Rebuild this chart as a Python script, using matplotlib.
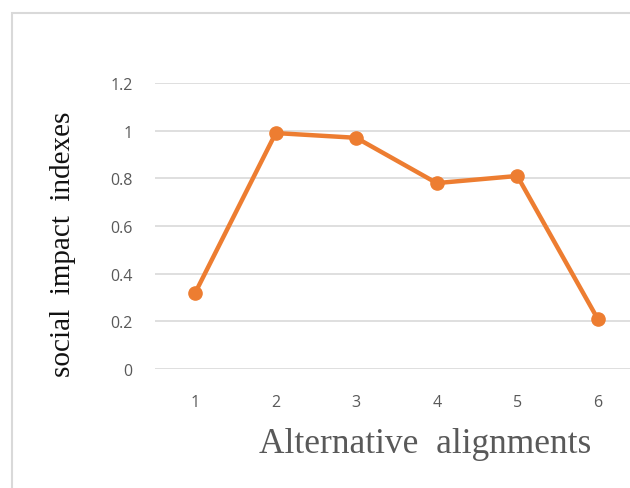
import matplotlib.pyplot as plt
from matplotlib.patches import Rectangle

# data
alternatives = ['1', '2', '3', '4', '5', '6']
social_index = [0.32, 0.99, 0.97, 0.78, 0.81, 0.21]
y_ticks = [0, 0.2, 0.4, 0.6, 0.8, 1.0, 1.2]
y_tick_labels = ['0', '0.2', '0.4', '0.6', '0.8', '1', '1.2']

W, H = 630, 489
fig = plt.figure(figsize=(W / 100, H / 100), dpi=100)

# outer chart frame (cropped at right/bottom)
fig.patches.append(Rectangle((12 / W, -0.1), 1.2, 1 - 14 / H + 0.1,
                             transform=fig.transFigure, fill=False,
                             edgecolor='#d9d9d9', linewidth=1.5))

ax = fig.add_axes([155 / W, 1 - 370 / H, (638 - 155) / W, (370 - 84) / H])
x = list(range(1, len(alternatives) + 1))
ax.plot(x, social_index, color='#ED7D31', linewidth=3.2, marker='o',
        markersize=9.5, solid_capstyle='round', zorder=3)

ax.set_xlim(0.5, 6.5)
ax.set_ylim(0, 1.2)
ax.set_xticks(x)
ax.set_xticklabels(alternatives)
ax.set_yticks(y_ticks)
ax.set_yticklabels(y_tick_labels)
ax.grid(axis='y', color='#d9d9d9', linewidth=1.2)
ax.set_axisbelow(True)
for s in ax.spines.values():
    s.set_visible(False)
ax.tick_params(length=0, labelsize=11.5, labelcolor='#595959')
ax.tick_params(axis='y', pad=16)
ax.tick_params(axis='x', pad=18)
for lab in ax.get_xticklabels() + ax.get_yticklabels():
    lab.set_family('Open Sans')

fig.text(425 / W, 1 - 445 / H, 'Alternative  alignments', ha='center', va='center',
         fontsize=25.5, color='#595959', family='Liberation Serif')
fig.text(63 / W, 1 - 244 / H, 'social  impact  indexes', ha='center', va='center',
         rotation=90, fontsize=21, color='#111111', family='Liberation Serif')

fig.savefig('out.png', dpi=100)
